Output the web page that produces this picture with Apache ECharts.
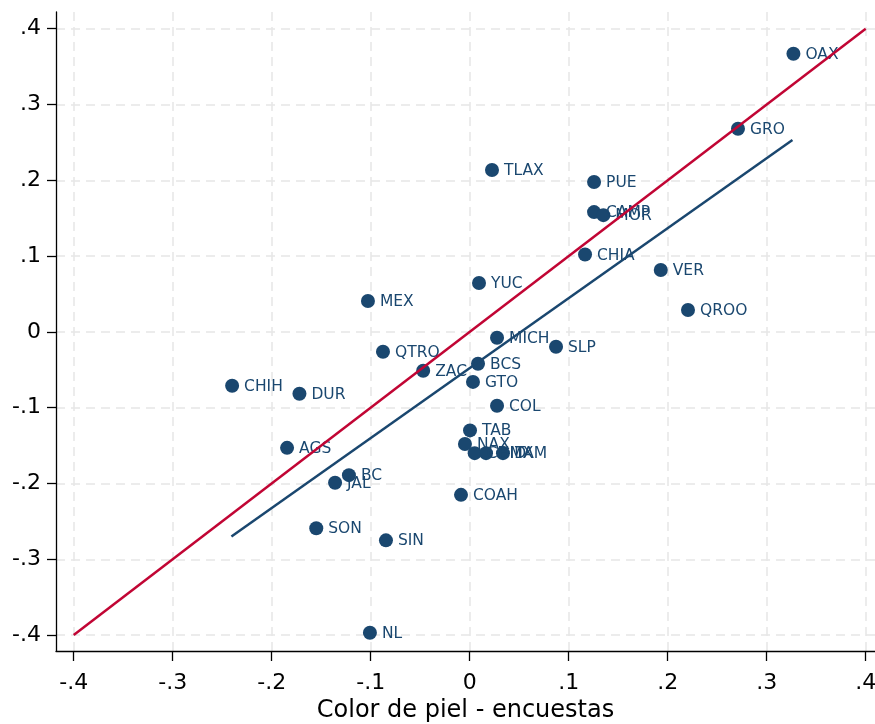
<!DOCTYPE html>
<html>
<head>
<meta charset="utf-8">
<script src="https://cdn.jsdelivr.net/npm/echarts@6/dist/echarts.min.js"></script>
<style>html,body{margin:0;padding:0;background:#fff;overflow:hidden}#c{width:875px;height:724px}</style>
</head>
<body>
<div id="c"></div>
<script>
// ---- data ----
const states = ["OAX","GRO","TLAX","PUE","CAMP","MOR","CHIA","VER","YUC","MEX","QROO","MICH","SLP","QTRO","BCS","ZAC","GTO","CHIH","DUR","COL","TAB","NAX","CDMX","HID","TAM","AGS","BC","JAL","COAH","SON","SIN","NL"];
const xVals = [0.327,0.271,0.0225,0.1256,0.1256,0.135,0.1165,0.193,0.0094,-0.1028,0.2205,0.0276,0.0872,-0.0876,0.0084,-0.047,0.0033,-0.240,-0.172,0.0276,0.0003,-0.0048,0.005,0.0165,0.0336,-0.1845,-0.122,-0.136,-0.0088,-0.155,-0.0846,-0.1008];
const yVals = [0.367,0.268,0.2136,0.1977,0.158,0.154,0.102,0.0817,0.0645,0.0408,0.0289,-0.0078,-0.0197,-0.0263,-0.0421,-0.0513,-0.066,-0.071,-0.0817,-0.0975,-0.130,-0.148,-0.160,-0.160,-0.160,-0.153,-0.189,-0.199,-0.215,-0.259,-0.275,-0.397];
const fitX = [-0.2407, 0.326];
const fitY = [-0.270, 0.253];
const refX = [-0.4, 0.4];
const refY = [-0.4, 0.4];
const ticks = [-0.4,-0.3,-0.2,-0.1,0,0.1,0.2,0.3,0.4];
const xTitle = "Color de piel - encuestas";

const navy = "#1a476f";
const red = "#c10534";
const font = "DejaVu Sans";
function fmt(v){
  const r = Math.round(v*10)/10;
  if (Math.abs(r) < 1e-9) return "0";
  return (r < 0 ? "-" : "") + Math.abs(r).toFixed(1).replace(/^0/, "");
}
const gridLine = {show:true, lineStyle:{color:"#e6e6e6", width:1.5, type:[9,6]}};

const chart = echarts.init(document.getElementById("c"), null, {renderer:"canvas"});
chart.setOption({
  animation:false,
  backgroundColor:"#fff",
  grid:{left:56, right:0, top:12, bottom:73, containLabel:false, outerBoundsMode:"none"},
  xAxis:{
    type:"value", min:-0.4179, max:0.4094,
    name:xTitle, nameLocation:"middle", nameGap:46,
    nameTextStyle:{fontFamily:font, fontSize:24, color:"#000"},
    axisLine:{show:true, onZero:false, lineStyle:{color:"#000", width:1.3}},
    axisTick:{show:true, inside:false, length:10, customValues:ticks, lineStyle:{color:"#000", width:1.3}},
    axisLabel:{customValues:ticks, formatter:fmt, fontFamily:font, fontSize:22, color:"#000", margin:21},
    splitLine:gridLine
  },
  yAxis:{
    type:"value", min:-0.421, max:0.422,
    axisLine:{show:true, onZero:false, lineStyle:{color:"#000", width:1.3}},
    axisTick:{show:true, inside:false, length:9, customValues:ticks, lineStyle:{color:"#000", width:1.3}},
    axisLabel:{customValues:ticks, formatter:fmt, fontFamily:font, fontSize:22, color:"#000", margin:15},
    splitLine:gridLine
  },
  series:[
    {
      type:"scatter",
      data: xVals.map((x,i)=>[x, yVals[i], states[i]]),
      symbol:"circle", symbolSize:14,
      itemStyle:{color:navy, opacity:1},
      label:{show:true, position:"right", distance:5, formatter:p=>p.data[2], color:navy, fontFamily:font, fontSize:15.5, offset:[0,1]},
      emphasis:{disabled:true},
      z:2
    },
    {
      type:"line",
      data: fitX.map((x,i)=>[x, fitY[i]]),
      symbol:"none", lineStyle:{color:navy, width:2.5},
      z:3
    },
    {
      type:"line",
      data: refX.map((x,i)=>[x, refY[i]]),
      symbol:"none", lineStyle:{color:red, width:2.5},
      z:4
    }
  ]
});
</script>
</body>
</html>
